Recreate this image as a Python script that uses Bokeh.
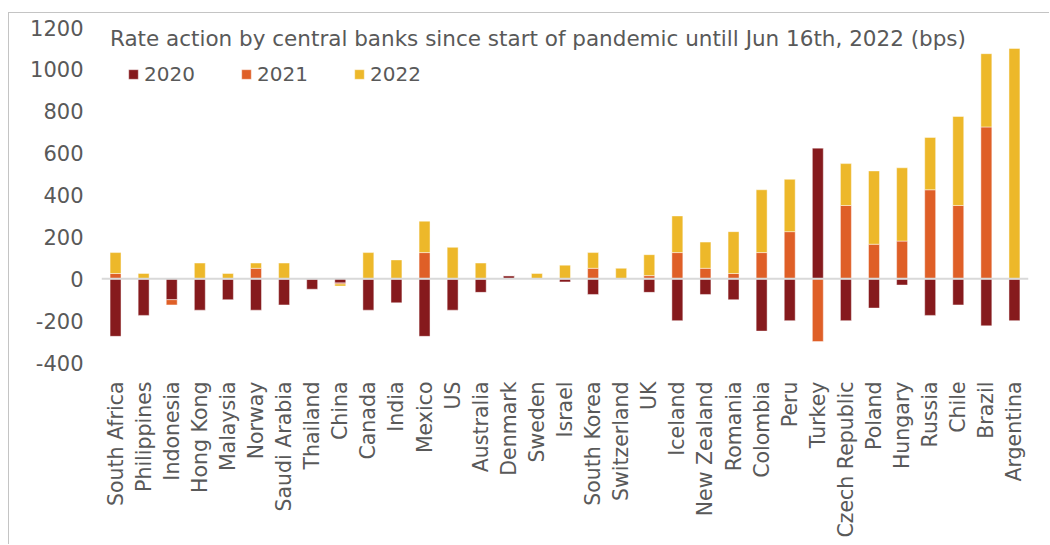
import math
from bokeh.plotting import figure
from bokeh.models import ColumnDataSource, Range1d, FixedTicker, Label, Span, Legend, LegendItem
from bokeh.embed import file_html
from bokeh.resources import INLINE

countries = ["South Africa", "Philippines", "Indonesia", "Hong Kong", "Malaysia", "Norway",
             "Saudi Arabia", "Thailand", "China", "Canada", "India", "Mexico", "US", "Australia",
             "Denmark", "Sweden", "Israel", "South Korea", "Switzerland", "UK", "Iceland",
             "New Zealand", "Romania", "Colombia", "Peru", "Turkey", "Czech Republic", "Poland",
             "Hungary", "Russia", "Chile", "Brazil", "Argentina"]

y2020 = [-275, -175, -100, -150, -100, -150, -125, -50, -20, -150, -115, -275, -150, -65,
         15, 0, -15, -75, 0, -65, -200, -75, -100, -250, -200, 625, -200, -140, -30, -175,
         -125, -225, -200]
y2021 = [25, 0, -25, 0, 0, 50, 0, 0, -5, 0, 0, 125, 0, 0,
         0, 0, 0, 50, 0, 15, 125, 50, 25, 125, 225, -300, 350, 165, 180, 425,
         350, 725, 0]
y2022 = [100, 25, 0, 75, 25, 25, 75, 0, -10, 125, 90, 150, 150, 75,
         0, 25, 65, 75, 50, 100, 175, 125, 200, 300, 250, 0, 200, 350, 350, 250,
         425, 350, 1100]

series = [("2020", y2020, "#861a1d"), ("2021", y2021, "#df5f27"), ("2022", y2022, "#edb82a")]

y_ticks = [-400, -200, 0, 200, 400, 600, 800, 1000, 1200]
title_text = "Rate action by central banks since start of pandemic untill Jun 16th, 2022 (bps)"

FONT = "DejaVu Sans"
GREY = "#595959"

p = figure(x_range=countries, y_range=Range1d(-400, 1200), width=1041, height=532,
           output_backend="svg", toolbar_location=None,
           min_border_left=92, min_border_right=22, min_border_top=14, min_border_bottom=183)
p.styles = {"margin-left": "8px", "margin-top": "12px",
            "border-left": "1px solid #c4c4c4", "border-top": "1px solid #c4c4c4"}
p.outline_line_color = None
p.xgrid.grid_line_color = None
p.ygrid.grid_line_color = None

# stacked bars: positives stack upward, negatives downward (as in Excel)
pos = [0.0] * len(countries)
neg = [0.0] * len(countries)
items = []
for name, vals, color in series:
    bottoms, tops = [], []
    for i, v in enumerate(vals):
        if v >= 0:
            bottoms.append(pos[i]); tops.append(pos[i] + v); pos[i] += v
        else:
            bottoms.append(neg[i]); tops.append(neg[i] + v); neg[i] += v
    src = ColumnDataSource(dict(x=countries, bottom=bottoms, top=tops))
    r = p.vbar(x="x", bottom="bottom", top="top", width=0.39, source=src,
               fill_color=color, line_color="white", line_alpha=0.45, line_width=1)
    items.append(LegendItem(label=name, renderers=[r]))

zero = Span(location=0, dimension="width", line_color="#d9d9d9", line_width=2)
p.add_layout(zero)

legend = Legend(items=items, orientation="horizontal", location=(26, 276),
                glyph_width=12, glyph_height=12, label_standoff=5, spacing=0,
                label_width=96, padding=0, margin=0,
                label_text_font=FONT, label_text_font_size="20px", label_text_color=GREY,
                border_line_color=None, background_fill_alpha=0)
p.add_layout(legend, "center")

p.add_layout(Label(x=0.30, y=1148, text=title_text, text_font=FONT, text_font_size="21.5px",
                   text_color=GREY, text_baseline="middle", text_align="left"))

p.yaxis.ticker = FixedTicker(ticks=y_ticks)
p.yaxis.major_label_overrides = {t: str(t) for t in y_ticks}
p.yaxis.axis_line_color = None
p.yaxis.major_tick_line_color = None
p.yaxis.minor_tick_line_color = None
p.yaxis.major_label_standoff = 12
p.yaxis.major_label_text_font = FONT
p.yaxis.major_label_text_font_size = "21px"
p.yaxis.major_label_text_color = GREY

p.xaxis.axis_line_color = None
p.xaxis.major_tick_line_color = None
p.xaxis.major_label_orientation = math.pi / 2
p.xaxis.major_label_standoff = 13
p.xaxis.major_label_text_font = FONT
p.xaxis.major_label_text_font_size = "20.5px"
p.xaxis.major_label_text_color = GREY

open("out.html", "w").write(file_html(p, INLINE))
